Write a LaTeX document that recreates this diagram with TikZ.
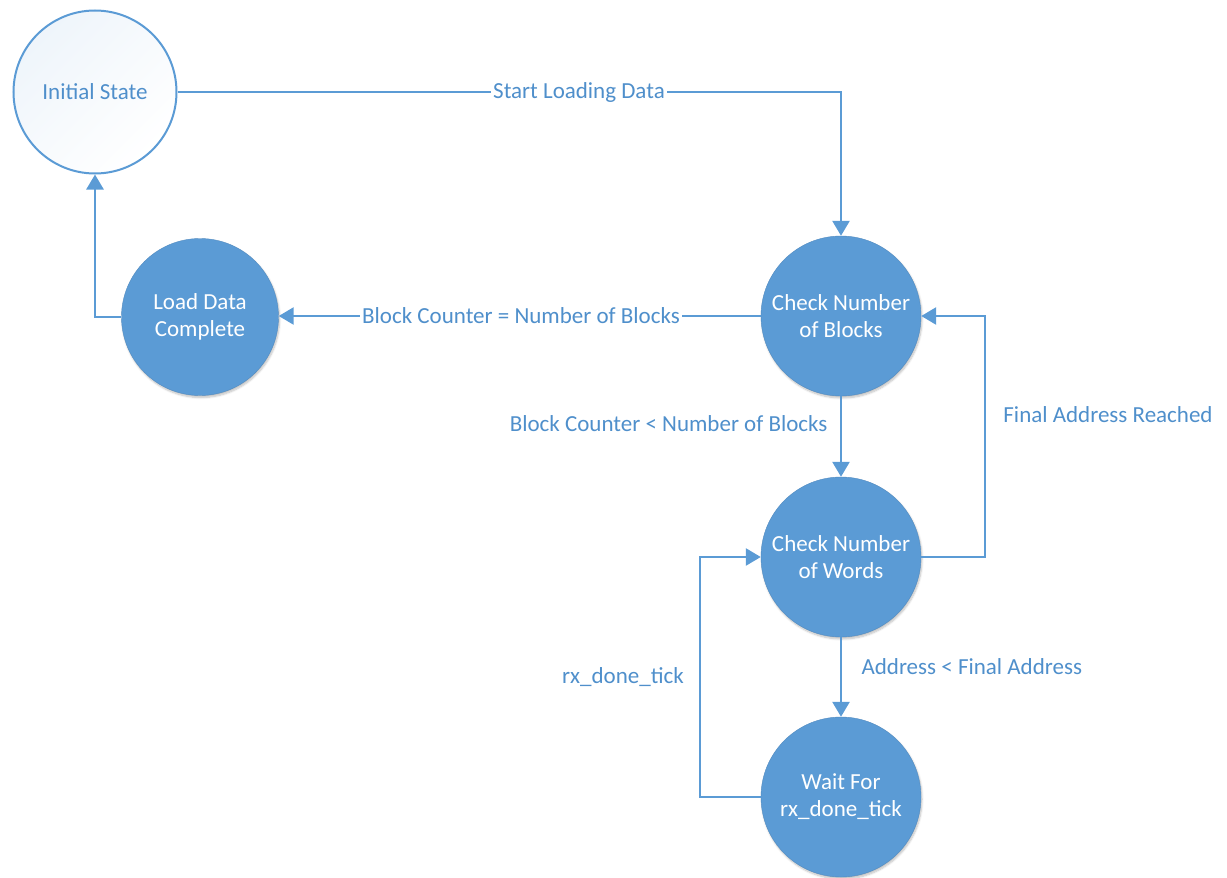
\documentclass[tikz,border=0pt]{standalone}
\usepackage{fontspec}
\setmainfont{Carlito}
\usetikzlibrary{arrows.meta,shadows.blur}
\definecolor{accent}{HTML}{5B9BD5}
\definecolor{labelblue}{HTML}{4F8FCB}
\begin{document}
\begin{tikzpicture}[x=1pt,y=-1pt,
  font=\fontsize{23}{27}\selectfont,
  state/.style={circle, fill=accent, draw=accent!90!black, line width=0.4pt,
    minimum size=160pt, inner sep=0pt, text=white, align=center,
    blur shadow={shadow blur steps=6, shadow xshift=1pt, shadow yshift=-2pt, shadow opacity=25}},
  start/.style={circle, draw=accent, line width=2pt, minimum size=163pt, inner sep=0pt,
    top color=white, bottom color=white, left color=accent!10, right color=white,
    shading angle=45, text=labelblue, align=center},
  flow/.style={draw=accent, line width=2.6pt, -{Triangle[length=15pt,width=17pt]}},
  lbl/.style={text=labelblue, fill=white, inner sep=2pt}
]
\useasboundingbox (0,0) rectangle (1227,878);

\node[start] (init) at (95,92) {Initial State};
\node[state, minimum size=157pt] (done) at (200,317) {Load Data\\Complete};
\node[state] (blocks) at (841,316) {Check Number\\of Blocks};
\node[state] (words) at (841,557) {Check Number\\of Words};
\node[state] (wait) at (841,797) {Wait For\\rx\_done\_tick};

\coordinate (c1) at (841,92);
\coordinate (c2) at (95,317);
\coordinate (c3) at (985,557);
\coordinate (c4) at (985,316);
\coordinate (c5) at (700,797);
\coordinate (c6) at (700,557);

\draw[flow] (init.east) -- (c1) -- (blocks.north);
\node[lbl] (l1) at (579,92) {Start Loading Data};

\draw[flow] (blocks.west) -- (blocks.west -| done.east);
\node[lbl] (l2) at (521,316) {Block Counter = Number of Blocks};

\draw[flow] (done.west) -- (c2) -- (init.south);

\draw[flow] (blocks.south) -- (words.north);
\node[text=labelblue, anchor=east] (l3) at (831,424) {Block Counter < Number of Blocks};

\draw[flow] (words.east) -- (c3) -- (c4) -- (blocks.east);
\node[text=labelblue] (l4) at (1108,415) {Final Address Reached};

\draw[flow] (words.south) -- (wait.north);
\node[text=labelblue, anchor=west] (l5) at (858,667) {Address < Final Address};

\draw[flow] (wait.west) -- (c5) -- (c6) -- (words.west);
\node[text=labelblue] (l6) at (623,677) {rx\_done\_tick};
\end{tikzpicture}
\end{document}
